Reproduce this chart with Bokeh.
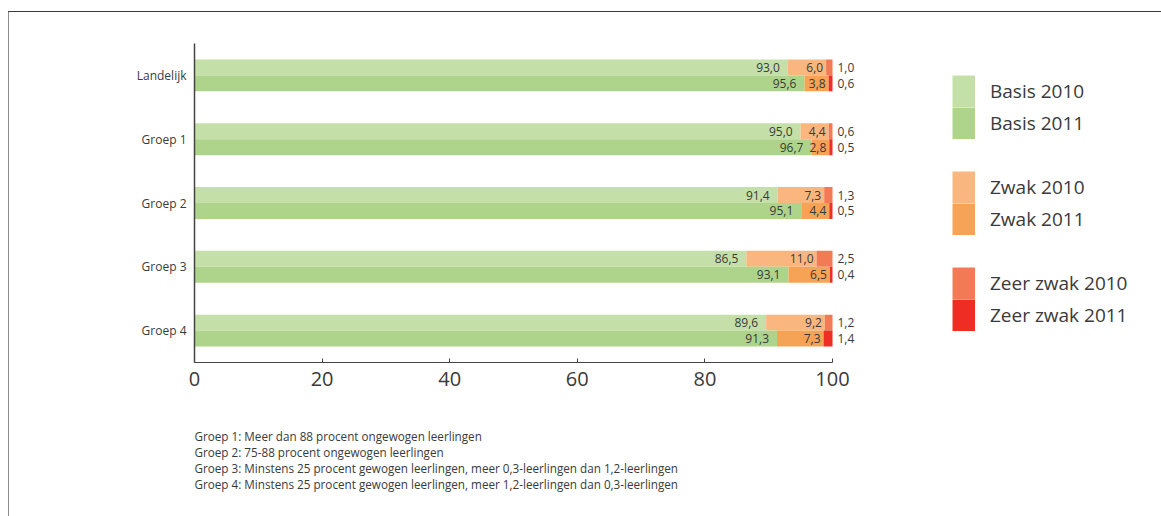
from bokeh.plotting import figure
from bokeh.models import (ColumnDataSource, Range1d, FactorRange, Legend, LegendItem,
                          Title, FixedTicker)
from bokeh.transform import dodge
from bokeh.core.properties import value
from bokeh.embed import file_html
from bokeh.resources import INLINE

categories = ["Landelijk", "Groep 1", "Groep 2", "Groep 3", "Groep 4"]
basis_2010 = [93.0, 95.0, 91.4, 86.5, 89.6]
zwak_2010 = [6.0, 4.4, 7.3, 11.0, 9.2]
zeer_zwak_2010 = [1.0, 0.6, 1.3, 2.5, 1.2]
basis_2011 = [95.6, 96.7, 95.1, 93.1, 91.3]
zwak_2011 = [3.8, 2.8, 4.4, 6.5, 7.3]
zeer_zwak_2011 = [0.6, 0.5, 0.5, 0.4, 1.4]
x_ticks = [0, 20, 40, 60, 80, 100]
series_labels = ["Basis 2010", "Basis 2011", "Zwak 2010", "Zwak 2011",
                 "Zeer zwak 2010", "Zeer zwak 2011"]
footnotes = [
    "Groep 1: Meer dan 88 procent ongewogen leerlingen",
    "Groep 2: 75-88 procent ongewogen leerlingen",
    "Groep 3: Minstens 25 procent gewogen leerlingen, meer 0,3-leerlingen dan 1,2-leerlingen",
    "Groep 4: Minstens 25 procent gewogen leerlingen, meer 1,2-leerlingen dan 0,3-leerlingen",
]

FONT = "Open Sans"
TXT = "#3a3a3a"
COLORS = {
    2010: ("#c4e0a8", "#f9b67f", "#f27a55"),
    2011: ("#add48a", "#f7a356", "#ee2e24"),
}


def fmt(v):
    return f"{v:.1f}".replace(".", ",")


page_styles = {
    "background-color": "white",
    "background-image": "linear-gradient(#3a3a3a, #3a3a3a), linear-gradient(#8c8c8c, #8c8c8c)",
    "background-size": "100% 1px, 1px 100%",
    "background-position": "8px 11px, 8px 11px",
    "background-repeat": "no-repeat",
}

# frame: x 194..1151 px (0..150), y 43..362 px
p = figure(width=1161, height=516, x_range=Range1d(0, 150),
           y_range=FactorRange(factors=categories[::-1]),
           output_backend="svg", toolbar_location=None,
           min_border_left=194, min_border_right=10, min_border_top=43,
           min_border_bottom=154, styles=page_styles)
p.outline_line_color = None
p.xgrid.visible = False
p.ygrid.visible = False
p.background_fill_color = None
p.border_fill_color = None

for year, basis, zwak, zeer, off in [
        (2010, basis_2010, zwak_2010, zeer_zwak_2010, 0.125),
        (2011, basis_2011, zwak_2011, zeer_zwak_2011, -0.125)]:
    zr = [b + z for b, z in zip(basis, zwak)]
    tr = [b + z + zz for b, z, zz in zip(basis, zwak, zeer)]
    src = ColumnDataSource(dict(
        cat=categories, zero=[0] * len(categories), basis_r=basis, zwak_r=zr, zeer_r=tr,
        basis_t=[fmt(v) for v in basis], zwak_t=[fmt(v) for v in zwak],
        zeer_t=[fmt(v) for v in zeer]))
    y = dodge("cat", off, range=p.y_range)
    c1, c2, c3 = COLORS[year]
    p.hbar(y=y, left="zero", right="basis_r", height=0.25, fill_color=c1,
           line_color=None, source=src)
    p.hbar(y=y, left="basis_r", right="zwak_r", height=0.25, fill_color=c2,
           line_color=None, source=src)
    p.hbar(y=y, left="zwak_r", right="zeer_r", height=0.25, fill_color=c3,
           line_color=None, source=src)
    common = dict(y=y, text_baseline="middle", text_font=value(FONT),
                  text_font_size="12px", text_color=TXT, source=src)
    p.text(x="basis_r", text="basis_t", x_offset=-8, text_align="right", **common)
    p.text(x="zwak_r", text="zwak_t", x_offset=-3, text_align="right", **common)
    p.text(x="zeer_r", text="zeer_t", x_offset=5, text_align="left", **common)

# x axis
xa = p.xaxis[0]
xa.bounds = (0, 100)
xa.ticker = FixedTicker(ticks=x_ticks)
xa.major_tick_in = 4
xa.major_tick_out = 0
xa.minor_tick_line_color = None
xa.axis_line_color = "#444444"
xa.major_tick_line_color = "#444444"
xa.major_label_text_font = FONT
xa.major_label_text_font_size = "20px"
xa.major_label_text_color = TXT
xa.major_label_standoff = 9

# y axis
ya = p.yaxis[0]
ya.major_tick_in = 0
ya.major_tick_out = 0
ya.axis_line_color = "#444444"
ya.axis_line_width = 1.5
ya.major_label_text_font = FONT
ya.major_label_text_font_size = "12px"
ya.major_label_text_color = TXT
ya.major_label_standoff = 8

# legend swatches: zero-length thick-line renderers (draw nothing in the plot,
# but their legend glyph is an exact full-size colour block)
legend_colors = [COLORS[2010][0], COLORS[2011][0], COLORS[2010][1], COLORS[2011][1],
                 COLORS[2010][2], COLORS[2011][2]]
anchor_x = [0, 0]
anchor_y = [categories[0], categories[0]]
swatches = [p.line(x=anchor_x, y=anchor_y, line_color=c, line_width=32, line_cap="butt")
            for c in legend_colors]
spacer = p.line(x=anchor_x, y=anchor_y, line_alpha=0)
items = []
for i, (lab, r) in enumerate(zip(series_labels, swatches)):
    if i in (2, 4):
        items.append(LegendItem(label=" ", renderers=[spacer]))
    items.append(LegendItem(label=lab, renderers=[r]))

legend = Legend(items=items, location=(758, 31), padding=0, spacing=0, margin=0,
                glyph_width=23, glyph_height=32, label_height=32, label_standoff=15,
                label_text_font=FONT, label_text_font_size="19px",
                label_text_color=TXT, label_text_baseline="middle",
                border_line_color=None, background_fill_alpha=0)
p.add_layout(legend)

# footnotes (below the x axis)
p.add_layout(Title(text=" ", align="left", text_font=FONT, text_font_size="11px",
                   standoff=21), "below")
for t in footnotes:
    p.add_layout(Title(text=t, align="left", text_font=FONT, text_font_size="11.7px",
                       text_color=TXT, text_font_style="normal", standoff=-2.5), "below")

open("out.html", "w").write(file_html(p, INLINE))
